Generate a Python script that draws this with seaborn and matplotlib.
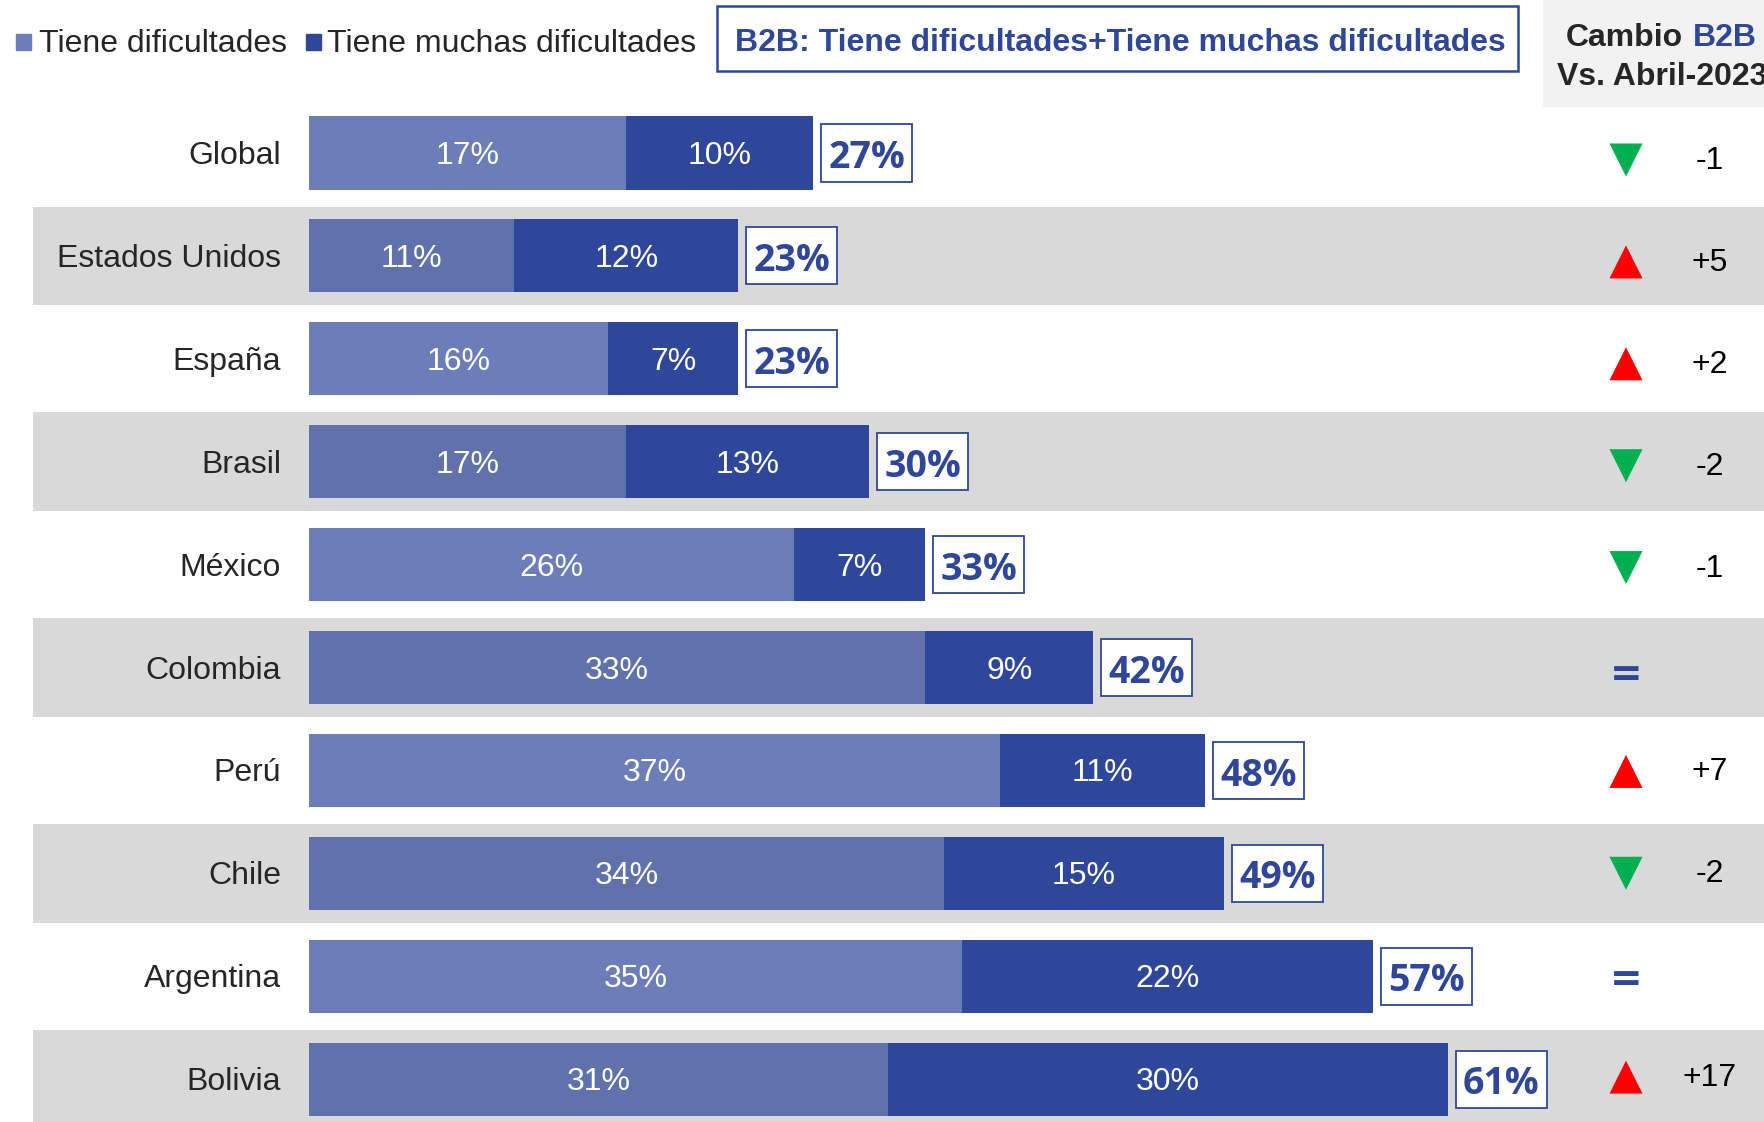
import numpy as np
import pandas as pd
import matplotlib
matplotlib.use('Agg')
import matplotlib.pyplot as plt
from matplotlib.patches import Rectangle
import seaborn as sns

### Datos
paises = ['Global', 'Estados Unidos', 'España', 'Brasil', 'México',
          'Colombia', 'Perú', 'Chile', 'Argentina', 'Bolivia']
tiene_dif = [17, 11, 16, 17, 26, 33, 37, 34, 35, 31]
muchas_dif = [10, 12, 7, 13, 7, 9, 11, 15, 22, 30]
total_b2b = [27, 23, 23, 30, 33, 42, 48, 49, 57, 61]
cambio = ['-1', '+5', '+2', '-2', '-1', '=', '+7', '-2', '=', '+17']

### Estilo
AZUL = '#2f479b'
AZUL_CLARO = '#6d7db9'
AZUL_CLARO_GRIS = '#6171ab'
GRIS = '#d9d9d9'
TEXTO = '#262626'

W, H = 1764, 1122
X0, PX = 309, 18.67     # pixel del 0% y pixeles por punto
Y0, ROW = 153, 102.9    # centro de la primera fila y alto de fila
DY = 0.03               # bajar un poco los textos

sns.set_theme(style='white')
plt.rcParams['font.family'] = ['Liberation Sans', 'DejaVu Sans']

df = pd.DataFrame({'pais': paises, 'leve': tiene_dif, 'mucha': muchas_dif,
                   'total': total_b2b, 'cambio': cambio})
df['barra'] = df['leve'] + df['mucha']
n = len(df)

fig = plt.figure(figsize=(W / 100, H / 100), dpi=100)
ax = fig.add_axes([0, 0, 1, 1])

# franjas grises
for i in range(1, n, 2):
    ax.axhspan(i - 0.48, i + 0.48, xmin=33 / W, color=GRIS, zorder=0, lw=0)
ax.axhspan(-Y0 / ROW, (107 - Y0) / ROW, xmin=1543 / W, color='#f2f2f2',
           zorder=0, lw=0)

# barras apiladas
sns.barplot(data=df, y='pais', x='barra', color=AZUL, orient='h', width=0.71,
            linewidth=0, saturation=1, ax=ax, zorder=2)
colores = [AZUL_CLARO_GRIS if i % 2 else AZUL_CLARO for i in range(n)]
sns.barplot(data=df, y='pais', x='leve', hue='pais', palette=colores,
            legend=False, orient='h', width=0.71, linewidth=0, saturation=1,
            ax=ax, zorder=3)

for i, r in df.iterrows():
    ax.text((281 - X0) / PX, i + DY, r.pais, ha='right', va='center',
            fontsize=23, color=TEXTO)
    ax.text(r.leve / 2, i + DY, f'{r.leve}%', color='white', fontsize=23,
            ha='center', va='center', zorder=4)
    ax.text(r.leve + r.mucha / 2, i + DY, f'{r.mucha}%', color='white',
            fontsize=23, ha='center', va='center', zorder=4)
    bx = r.barra + 8 / PX
    ax.add_patch(Rectangle((bx, i - 0.277), 91 / PX, 0.554, fc='white',
                           ec=AZUL, lw=1.3, zorder=4))
    ax.text(bx + 45.5 / PX, i + 0.05, f'{r.total}%', family='Open Sans',
            fontweight='bold', fontsize=27, color=AZUL, ha='center',
            va='center', zorder=5)

# columna de cambio
df['y_col'] = (7 + np.arange(n) * 101.9) / ROW
df['x_col'] = (1626 - X0) / PX
df['sentido'] = ['baja' if c.startswith('-') else
                 'sube' if c.startswith('+') else 'igual' for c in cambio]
flechas = df[df.sentido != 'igual']
sns.scatterplot(data=flechas, x='x_col', y='y_col', hue='sentido',
                style='sentido', palette={'baja': '#00b050', 'sube': '#ff0000'},
                markers={'baja': 'v', 'sube': '^'}, s=566, linewidth=0,
                legend=False, ax=ax, zorder=4)
for _, r in df.iterrows():
    if r.sentido == 'igual':
        ax.text(r.x_col, r.y_col + 0.05, '=', family='DejaVu Sans',
                fontweight='bold', fontsize=28, color=AZUL, ha='center',
                va='center')
    else:
        ax.text((1710 - X0) / PX, r.y_col + 0.01, r.cambio, fontsize=23,
                color='black', ha='center', va='center')

ax.set_xlim(-X0 / PX, (W - X0) / PX)
ax.set_ylim((H - Y0) / ROW, -Y0 / ROW)
ax.axis('off')


# leyenda y cabecera en pixeles de figura
def fx(px):
    return px / W


def fy(py):
    return 1 - py / H


fig.add_artist(Rectangle((fx(16), fy(50)), 15 / W, 16 / H,
                         transform=fig.transFigure, color=AZUL_CLARO))
fig.text(fx(39), fy(44), 'Tiene dificultades', fontsize=23, color=TEXTO,
         va='center')
fig.add_artist(Rectangle((fx(306), fy(50)), 15 / W, 16 / H,
                         transform=fig.transFigure, color=AZUL))
fig.text(fx(327), fy(44), 'Tiene muchas dificultades', fontsize=23,
         color=TEXTO, va='center')

fig.add_artist(Rectangle((fx(717), fy(71)), 801 / W, 65 / H,
                         transform=fig.transFigure, fc='white', ec=AZUL, lw=1.8))
fig.text(fx(1120), fy(43), 'B2B: Tiene dificultades+Tiene muchas dificultades',
         fontsize=23, fontweight='bold', color=AZUL, ha='center', va='center')

fig.text(fx(1566), fy(38), 'Cambio', fontsize=23, fontweight='bold',
         color=TEXTO, va='center')
fig.text(fx(1693), fy(38), 'B2B', fontsize=23, fontweight='bold',
         color=AZUL, va='center')
fig.text(fx(1557), fy(77), 'Vs. Abril-2023', fontsize=23, fontweight='bold',
         color=TEXTO, va='center')

fig.savefig('out.png', dpi=100)
plt.close()
